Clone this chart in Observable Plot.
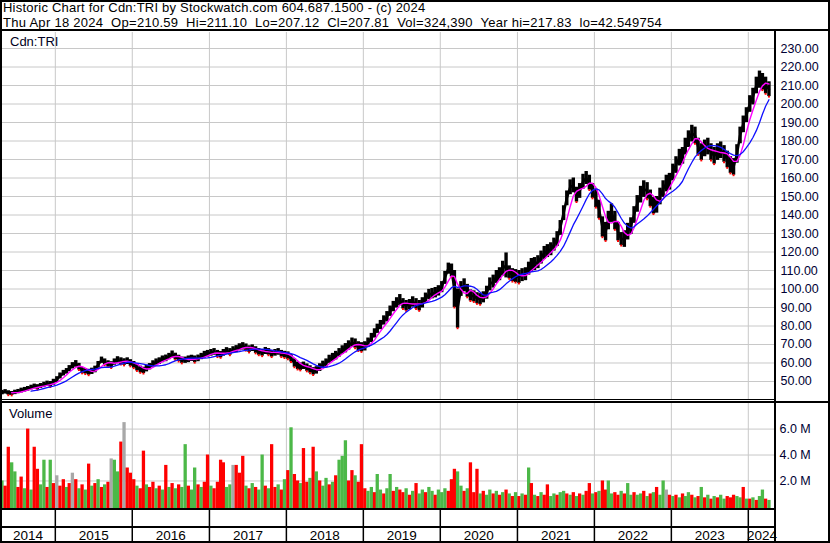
<!DOCTYPE html>
<html>
<head>
<meta charset="utf-8">
<script src="https://cdn.jsdelivr.net/npm/d3@7"></script>
<script src="https://cdn.jsdelivr.net/npm/@observablehq/plot@0.6"></script>
<style>
  body { margin: 0; background: #fff; }
  #chart { position: relative; width: 830px; height: 543px; overflow: hidden; background: #fff;
           font-family: "Liberation Sans", Arial, sans-serif; color: #000; }
  .hdr { position: absolute; left: 3px; top: 0px; font-size: 13px; line-height: 15px; white-space: pre; letter-spacing: 0.22px; }
  .hdr2 { letter-spacing: 0.28px; }
  .lbl { position: absolute; font-size: 13px; line-height: 15px; white-space: pre; color: #000020; }
  .blk { position: absolute; background: #000; }
  .panel { position: absolute; left: 0; }
  .panel svg { display: block; }
</style>
</head>
<body>
<div id="chart">
  <div class="hdr">Historic Chart for Cdn:TRI by Stockwatch.com 604.687.1500 - (c) 2024
<span class="hdr2">Thu Apr 18 2024  Op=210.59  Hi=211.10  Lo=207.12  Cl=207.81  Vol=324,390  Year hi=217.83  lo=42.549754</span></div>
  <div class="panel" id="price" style="top:31px"></div>
  <div class="panel" id="volume" style="top:399px"></div>
  <div class="panel" id="xaxis" style="top:509px"></div>
  <div class="lbl" style="left:10px;top:34px">Cdn:TRI</div>
  <div class="lbl" style="left:9px;top:406px">Volume</div>
  <!-- frame lines -->
  <div class="blk" style="left:0;top:0;width:830px;height:2px"></div>
  <div class="blk" style="left:0;top:29px;width:830px;height:2px"></div>
  <div class="blk" style="left:0;top:399px;width:775px;height:1px"></div>
  <div class="blk" style="left:0;top:401px;width:830px;height:2px"></div>
  <div class="blk" style="left:0;top:508px;width:775px;height:2px"></div>
  <div class="blk" style="left:0;top:526px;width:775px;height:2px"></div>
  <div class="blk" style="left:0;top:541px;width:830px;height:2px"></div>
  <div class="blk" style="left:0;top:0;width:2px;height:543px"></div>
  <div class="blk" style="left:828px;top:0;width:2px;height:543px"></div>
  <div class="blk" style="left:774px;top:31px;width:2px;height:512px"></div>
</div>
<script>
// ---------- data ----------
const years = [2014, 2015, 2016, 2017, 2018, 2019, 2020, 2021, 2022, 2023, 2024];
const priceTicks = [50, 60, 70, 80, 90, 100, 110, 120, 130, 140, 150, 160, 170, 180, 190, 200, 210, 220, 230];
const volumeTicks = [2, 4, 6];   // millions

// half-month price ranges, from late Apr 2014 to Apr 2024
const high = [
  // 2014
  45.2,45.6,45.0,44.6,45.3,45.7,46.4,46.8,47.3,48.0,48.6,48.3,48.9,49.6,50.2,50.0,51.2,
  // 2015
  52.6,54.6,56.0,57.0,58.6,60.2,61.3,59.8,57.6,57.0,56.6,57.2,58.3,60.8,63.2,62.2,61.2,60.7,62.2,63.4,62.8,62.3,62.8,61.8,
  // 2016
  60.8,59.3,58.3,57.7,58.8,59.7,61.2,62.2,62.8,63.8,64.3,65.2,66.5,65.3,64.2,63.2,63.2,63.8,64.2,63.8,64.3,65.2,66.3,66.8,
  // 2017
  67.3,67.8,66.8,66.2,67.3,68.3,67.8,68.8,69.4,70.4,71.0,70.3,69.3,69.8,68.8,67.8,67.3,68.4,67.8,66.8,67.3,67.8,66.8,66.3,
  // 2018
  66.0,64.5,62.3,60.5,60.0,60.5,59.5,58.5,57.5,58.0,59.6,61.0,62.2,64.2,65.2,66.3,67.8,69.3,70.5,72.0,73.5,73.0,71.5,71.0,
  // 2019
  71.5,73.5,76.0,78.5,81.0,83.0,85.5,87.8,90.8,93.3,95.3,97.0,94.8,93.8,94.3,95.8,94.8,93.8,95.3,97.8,99.8,100.3,100.8,101.8,
  // 2020
  104.0,109.5,114.0,113.5,110.0,100.0,104.0,105.5,102.5,99.5,99.0,98.0,97.5,98.5,101.5,106.0,107.5,110.0,111.5,115.0,119.5,112.5,111.0,110.5,
  // 2021
  110.0,111.0,111.5,114.5,116.5,117.0,118.0,120.5,123.0,124.0,125.0,127.5,131.0,137.0,145.0,153.0,159.0,160.0,155.0,157.0,162.0,163.5,161.5,157.0,
  // 2022
  154.0,148.0,139.0,136.0,142.0,146.0,142.0,136.0,130.5,131.5,135.5,138.5,144.5,150.5,155.5,158.5,157.5,153.5,149.5,150.0,154.5,158.5,161.5,162.5,
  // 2023
  167.5,171.5,175.5,176.5,181.5,185.5,188.5,187.5,181.5,178.5,180.5,181.5,178.5,176.5,178.5,179.5,177.5,174.5,171.5,170.5,178.0,187.5,193.5,198.0,
  // 2024
  204.5,208.5,214.5,217.8,216.5,214.5,212.0
];
const low = [
  // 2014
  42.8,43.3,42.6,42.5,42.9,43.4,43.8,44.3,44.8,45.5,46.0,45.6,46.2,46.9,47.4,47.0,48.0,
  // 2015
  49.4,51.4,53.0,54.0,55.4,56.8,57.7,56.2,54.4,54.0,53.4,53.8,54.7,57.2,59.8,58.8,57.8,57.3,58.8,59.6,59.2,58.7,59.2,58.2,
  // 2016
  57.2,55.7,54.7,54.3,55.2,56.3,57.8,58.8,59.2,60.2,60.7,61.8,62.5,61.7,60.8,59.8,59.8,60.2,60.8,60.2,60.7,61.8,62.7,63.2,
  // 2017
  63.7,64.2,63.2,62.8,63.7,64.7,64.2,65.2,65.6,66.6,67.0,66.7,65.7,66.2,65.2,64.2,63.7,64.6,64.2,63.2,63.7,64.2,63.2,62.7,
  // 2018
  62.0,60.5,57.7,56.5,56.0,56.5,55.5,54.5,53.5,54.0,55.4,57.0,57.8,59.8,60.8,61.7,63.2,64.7,65.5,67.0,68.5,68.0,66.5,66.0,
  // 2019
  66.5,68.5,71.0,73.5,76.0,78.0,80.5,82.2,85.2,87.7,89.7,91.0,89.2,88.2,88.7,90.2,89.2,88.2,89.7,92.2,94.2,94.7,95.2,96.2,
  // 2020
  98.0,102.5,108.0,106.5,90.0,78.8,96.0,98.5,95.5,93.5,93.0,92.0,91.5,92.5,94.5,99.0,100.5,103.0,104.5,107.0,106.0,105.5,104.0,103.5,
  // 2021
  103.0,104.0,104.5,107.5,109.5,110.0,111.0,113.5,116.0,117.0,118.0,120.5,123.0,129.0,137.0,145.0,151.0,152.0,147.0,149.0,154.0,156.5,153.5,149.0,
  // 2022
  144.0,138.0,128.0,126.0,132.0,136.0,132.0,126.0,123.5,122.5,126.5,129.5,135.5,141.5,146.5,149.5,148.5,144.5,140.5,141.0,145.5,149.5,152.5,153.5,
  // 2023
  158.5,162.5,166.5,167.5,172.5,176.5,179.5,178.5,172.5,169.5,171.5,172.5,169.5,167.5,169.5,170.5,168.5,165.5,162.5,161.5,168.0,178.5,184.5,190.0,
  // 2024
  195.5,199.5,205.5,208.5,207.5,205.5,204.0
];
// volume (millions) per half-month, with the bar's direction: u = up, d = down, f = flat
const volume = [
  // 2014
  2.0,1.6,4.6,3.4,2.7,1.5,2.3,1.4,6.0,1.3,4.6,2.9,1.7,3.6,1.5,3.6,1.8,
  // 2015
  2.4,1.6,2.1,1.5,1.8,2.6,2.1,1.4,1.7,1.3,3.3,1.6,1.8,2.1,1.5,1.7,1.9,3.7,3.6,2.7,5.0,6.5,3.0,2.6,
  // 2016
  2.1,1.6,1.4,4.3,1.7,1.5,1.9,1.4,1.6,1.3,3.2,1.5,1.8,1.4,1.7,1.5,4.8,1.6,1.3,3.0,1.7,1.5,1.9,4.0,
  // 2017
  1.6,1.4,1.9,3.6,3.4,1.5,1.7,3.2,3.2,2.6,3.9,1.6,1.4,1.8,1.5,1.3,4.0,1.6,1.4,4.8,1.5,1.7,1.3,2.1,
  // 2018
  2.8,6.1,2.5,2.0,1.8,4.5,1.9,2.2,4.6,2.7,2.0,1.6,2.2,1.7,1.9,2.4,3.6,3.9,5.1,2.0,2.8,2.4,1.9,4.8,
  // 2019
  1.4,1.2,1.5,1.1,2.5,1.3,1.0,1.4,2.5,1.2,1.5,1.3,1.1,1.4,0.9,1.2,1.8,1.0,1.3,1.1,1.5,1.2,0.9,1.3,
  // 2020
  1.1,1.4,1.2,2.1,2.9,2.7,1.6,1.2,1.4,3.4,1.1,2.9,1.0,1.2,0.9,1.3,1.0,1.2,0.9,1.1,1.3,1.0,0.8,1.1,
  // 2021
  0.8,1.0,0.9,3.0,1.8,0.9,0.8,1.1,0.9,1.7,0.8,1.0,0.9,1.1,1.2,1.0,0.9,1.1,0.8,1.0,0.9,1.2,1.8,1.0,
  // 2022
  1.1,1.2,2.0,1.3,2.0,1.0,1.1,0.9,1.2,1.0,1.8,0.9,1.1,0.9,1.0,1.2,0.8,1.0,1.1,1.5,0.9,2.0,1.3,0.9,
  // 2023
  0.8,0.9,0.7,1.0,0.8,1.1,0.9,0.7,0.8,1.5,0.7,0.9,0.6,0.8,0.7,0.9,0.6,0.8,0.7,0.9,0.8,0.7,1.5,0.6,
  // 2024
  0.6,0.7,0.5,0.8,1.3,0.6,0.5
];
const volumeDir = (
  "udduuddudud duudud" +                    // 2014
  "fddudfdu dudududu dfuudfdd" +            // 2015
  "dudd uddu dudu dudu uduu dudd" +         // 2016
  "uddd duuf dddu dudu udud dudu" +         // 2017
  "dudd uddu dudu udud uuud dudd" +         // 2018
  "duud uudu udud dudu duud uudu" +         // 2019
  "uudd duud uddd uduu dudu dudu" +         // 2020
  "dudu dudu dduu duud udud uddu" +         // 2021
  "dudd uudd uduu duud udud uufd" +         // 2022
  "udud uudu dudu dudu uddd uudu" +         // 2023
  "duduudu"                                 // 2024
).replace(/\s/g, "");

// ---------- build table ----------
const data = high.map((h, i) => {
  const k = i + 7;                       // half-month index counted from Jan 2014
  const date = new Date(Date.UTC(2014, Math.floor(k / 2), k % 2 ? 23 : 8));
  return {date, high: h, low: low[i], mid: (h + low[i]) / 2, vol: volume[i], dir: volumeDir[i] || "u"};
});
data.forEach((d, i) => { d.down = i > 0 && d.mid < data[i - 1].mid; });

const FONT = '"Liberation Sans", Arial, sans-serif';
const GRID = "#c8c8c8";
const xDomain = [new Date(Date.UTC(2014, 3, 16)), new Date(Date.UTC(2024, 4, 9))];
const yearStarts = years.slice(1).map(y => new Date(Date.UTC(y, 0, 1)));
const volColor = {u: "#4cb848", d: "#ff0000", f: "#a8a8a8"};
const volFloor = -0.2;

const commonX = {type: "utc", domain: xDomain, axis: null};

// ---------- price panel ----------
const price = Plot.plot({
  width: 830, height: 370,
  marginLeft: 0, marginRight: 55, marginTop: 1, marginBottom: 2,
  x: commonX,
  y: {domain: [40.27, 238.65], axis: null},
  style: {fontFamily: FONT, fontSize: "12.5px", color: "#000033", background: "transparent"},
  marks: [
    Plot.ruleY(priceTicks, {stroke: GRID, strokeWidth: 1}),
    Plot.ruleX(yearStarts, {stroke: GRID, strokeWidth: 1}),
    Plot.ruleX(data, {x: "date", y1: "low", y2: "high", stroke: "#000", strokeWidth: 3.4}),
    Plot.line(data, {x: "date", y: "mid", stroke: "#000", strokeWidth: 2.5}),
    Plot.dot(data.filter(d => d.down), {x: "date", y: "low", symbol: "square", r: 1.1, fill: "#ff0000", stroke: null}),
    Plot.lineY(data, Plot.windowY({k: 4, anchor: "end", strict: true}, {x: "date", y: "mid", stroke: "#ff00ff", strokeWidth: 1.4})),
    Plot.lineY(data, Plot.windowY({k: 10, anchor: "end", strict: true}, {x: "date", y: "mid", stroke: "#1010ff", strokeWidth: 1.3})),
    Plot.axisY(priceTicks, {anchor: "right", tickSize: 0, tickPadding: 5, tickFormat: d3.format(".2f"), label: null, fill: "#000033"})
  ]
});
document.getElementById("price").appendChild(price);

// ---------- volume panel ----------
const vol = Plot.plot({
  width: 830, height: 112,
  marginLeft: 0, marginRight: 55, marginTop: 3, marginBottom: 2,
  x: commonX,
  y: {domain: [volFloor, 8.05], axis: null},
  style: {fontFamily: FONT, fontSize: "12.5px", color: "#000033", background: "transparent"},
  marks: [
    Plot.ruleY(volumeTicks, {stroke: GRID, strokeWidth: 1}),
    Plot.ruleX(yearStarts, {stroke: GRID, strokeWidth: 1}),
    Plot.ruleX(data, {x: "date", y1: volFloor, y2: "vol", stroke: d => volColor[d.dir], strokeWidth: 3.3}),
    Plot.axisY(volumeTicks, {anchor: "right", tickSize: 0, tickPadding: 4, tickFormat: d => d.toFixed(1) + " M", label: null, fill: "#000033"})
  ]
});
document.getElementById("volume").appendChild(vol);

// ---------- year axis ----------
const yearLabels = years.map(y => {
  const s = Math.max(Date.UTC(y, 0, 1), +xDomain[0]);
  const e = Math.min(Date.UTC(y + 1, 0, 1), +xDomain[1]);
  return {label: String(y), mid: new Date((s + e) / 2)};
});
const xaxis = Plot.plot({
  width: 830, height: 34,
  marginLeft: 0, marginRight: 55, marginTop: 0, marginBottom: 0,
  x: commonX,
  y: {axis: null},
  style: {fontFamily: FONT, fontSize: "13.5px", color: "#000", background: "transparent"},
  marks: [
    Plot.ruleX(yearStarts, {stroke: "#000", strokeWidth: 1.5}),
    Plot.text(yearLabels, {x: "mid", text: "label", frameAnchor: "bottom", dy: -8, lineAnchor: "middle", fill: "#000"})
  ]
});
document.getElementById("xaxis").appendChild(xaxis);
</script>
</body>
</html>
